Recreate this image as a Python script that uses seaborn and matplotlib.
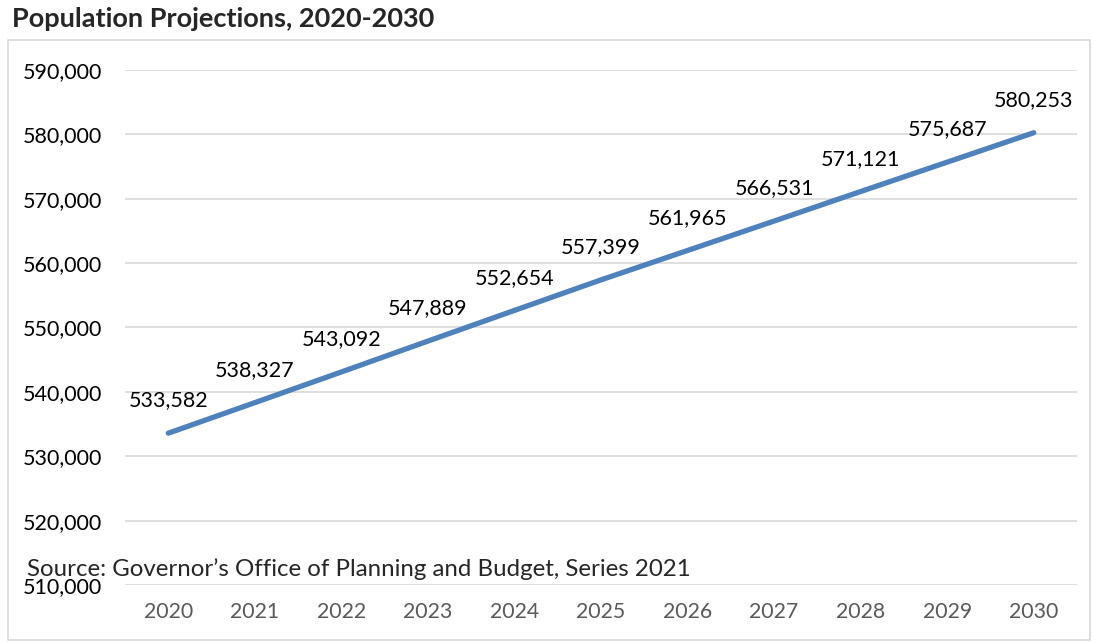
import seaborn as sns
import matplotlib.pyplot as plt
import pandas as pd
from matplotlib.patches import Rectangle
from matplotlib.ticker import FuncFormatter

years = [2020, 2021, 2022, 2023, 2024, 2025, 2026, 2027, 2028, 2029, 2030]
population = [533582, 538327, 543092, 547889, 552654, 557399,
              561965, 566531, 571121, 575687, 580253]
year_labels = [str(y) for y in years]

df = pd.DataFrame({"idx": range(len(years)), "population": population})

sns.set_style("white")
plt.rcParams["font.family"] = ["Lato", "DejaVu Sans"]

fig = plt.figure(figsize=(10.93, 6.42), dpi=100)
ax = fig.add_axes([125 / 1093, 1 - 585 / 642, (1077 - 125) / 1093, (585 - 70) / 642])

# chart border
fig.patches.append(Rectangle((8 / 1093, 2 / 642), (1090 - 8) / 1093, (640 - 40) / 642,
                             transform=fig.transFigure, fill=False,
                             edgecolor="#D9D9D9", linewidth=1.2))

sns.lineplot(data=df, x="idx", y="population", color="#4F81BD",
             linewidth=3.8, ax=ax, solid_capstyle="round")

for i, v in enumerate(population):
    ax.annotate(f"{v:,}", (i, v), xytext=(0, 23.5), textcoords="offset points",
                ha="center", va="center", fontsize=15.5, color="#000000")

ax.set_xlim(-0.5, len(years) - 0.5)
ax.set_ylim(510000, 590000)
ax.set_yticks(range(510000, 590001, 10000))
ax.yaxis.set_major_formatter(FuncFormatter(lambda v, p: f"{int(v):,}"))
ax.set_xticks(range(len(years)))
ax.set_xticklabels(year_labels)
ax.grid(axis="y", color="#D9D9D9", linewidth=1.2)
ax.grid(axis="x", visible=False)
for s in ax.spines.values():
    s.set_visible(False)
ax.tick_params(axis="y", labelsize=15.5, labelcolor="#000000", length=0, pad=16.5)
ax.tick_params(axis="x", labelsize=15.3, labelcolor="#595959", length=0, pad=12)
ax.set_xlabel("")
ax.set_ylabel("")

fig.text(12 / 1093, 1 - 19 / 642, "Population Projections, 2020-2030",
         fontsize=19.5, fontweight="bold", va="center", ha="left")
fig.text(27 / 1093, 1 - 569 / 642, "Source: Governor\u2019s Office of Planning and Budget, Series 2021",
         fontsize=17.3, va="center", ha="left")

plt.savefig("out.png", dpi=100)
